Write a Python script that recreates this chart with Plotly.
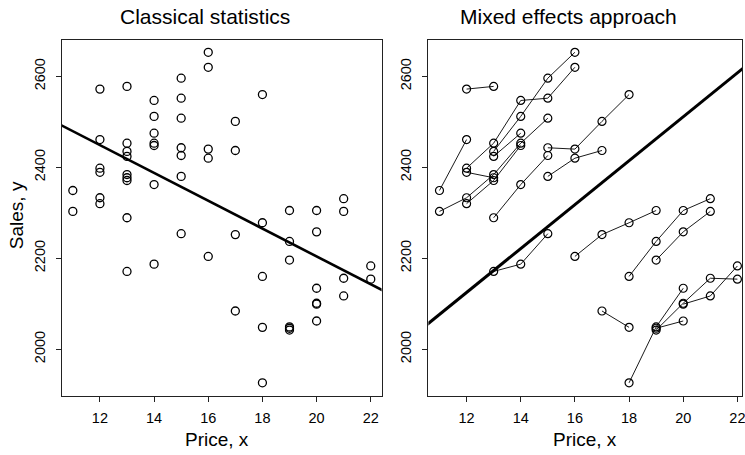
import numpy as np
import plotly.graph_objects as go

# ---- data: each store = one connected series in the right panel ----
store_price = [
    [12, 13],
    [11, 12],
    [12, 13, 14, 15, 16],
    [13, 14, 15, 16],
    [12, 13],
    [11, 12, 13, 14, 15],
    [12, 13, 14],
    [13, 14],
    [13, 14, 15],
    [15, 16, 17, 18],
    [15, 16, 17],
    [13, 14, 15],
    [16, 17, 18, 19],
    [18, 19, 20, 21],
    [19, 20, 21],
    [17, 18],
    [18, 19, 20],
    [19, 20, 21, 22],
    [20, 21, 22],
    [19, 20],
]
store_sales = [
    [2572, 2578],
    [2349, 2461],
    [2398, 2453, 2547, 2552, 2620],
    [2435, 2512, 2596, 2653],
    [2389, 2377],
    [2303, 2333, 2384, 2453, 2508],
    [2320, 2371, 2448],
    [2424, 2475],
    [2289, 2362, 2426],
    [2443, 2440, 2501, 2560],
    [2380, 2420, 2437],
    [2171, 2187, 2254],
    [2204, 2252, 2278, 2305],
    [2160, 2237, 2305, 2331],
    [2196, 2258, 2303],
    [2084, 2048],
    [1926, 2049, 2134],
    [2042, 2101, 2156, 2154],
    [2099, 2117, 2183],
    [2046, 2062],
]

# fitted lines (intercept, slope)
classical_fit = [2816.0, -30.6]
mixed_fit = [1545.0, 48.3]
fit_x = [10.5, 22.5]

x_ticks = [12, 14, 16, 18, 20, 22]
y_ticks = [2000, 2200, 2400, 2600]

panel_titles = ["Classical statistics", "Mixed effects approach"]
x_title = "Price, x"
y_title = "Sales, y"

# ---- figure ----
FONT = "Liberation Sans, Arial, Helvetica, sans-serif"
W, H = 745, 455
ML, MR, MT, MB = 62, 0, 40, 59
PW = W - ML - MR
PH = H - MT - MB

def px2paper_x(px):
    return (px - ML) / PW

def px2paper_y(py):
    return (H - MB - py) / PH

fig = go.Figure()

all_x = [p for s in store_price for p in s]
all_y = [v for s in store_sales for v in s]

fig.add_trace(go.Scatter(
    x=all_x, y=all_y, mode="markers",
    marker=dict(symbol="circle-open", size=8, color="black", line=dict(width=1.3)),
    xaxis="x", yaxis="y", showlegend=False, hoverinfo="skip"))

fx = np.array(fit_x)
fig.add_trace(go.Scatter(
    x=fx, y=classical_fit[0] + classical_fit[1] * fx, mode="lines",
    line=dict(color="black", width=2.6), xaxis="x", yaxis="y",
    showlegend=False, hoverinfo="skip"))

for px_, sy in zip(store_price, store_sales):
    fig.add_trace(go.Scatter(
        x=px_, y=sy, mode="lines+markers",
        line=dict(color="black", width=0.9),
        marker=dict(symbol="circle-open", size=8, color="black", line=dict(width=1.2)),
        xaxis="x2", yaxis="y2", showlegend=False, hoverinfo="skip"))

fig.add_trace(go.Scatter(
    x=fx, y=mixed_fit[0] + mixed_fit[1] * fx, mode="lines",
    line=dict(color="black", width=3), xaxis="x2", yaxis="y2",
    showlegend=False, hoverinfo="skip"))

axis_common = dict(
    showgrid=False, zeroline=False, showline=True, mirror=True,
    linecolor="#222", linewidth=1.4, ticks="outside", ticklen=5,
    tickwidth=1.2, tickcolor="#222",
    tickfont=dict(family=FONT, size=14.5, color="black"),
)

left_end = px2paper_x(383)
right_start = px2paper_x(430)

fig.update_layout(
    width=W, height=H,
    margin=dict(l=ML, r=MR, t=MT, b=MB),
    paper_bgcolor="white", plot_bgcolor="white",
    font=dict(family=FONT, color="black"),
    xaxis=dict(domain=[0, left_end], range=[10.6, 22.4], tickvals=x_ticks,
               anchor="y", ticklabelstandoff=3, **axis_common),
    yaxis=dict(domain=[0, 1], range=[1897, 2680], tickvals=y_ticks,
               anchor="x", tickangle=-90, ticklabelstandoff=5, **axis_common),
    xaxis2=dict(domain=[right_start, 1], range=[10.59, 22.17], tickvals=x_ticks,
                anchor="y2", ticklabelstandoff=3, ticklabeloverflow="allow",
                **axis_common),
    yaxis2=dict(domain=[0, 1], range=[1897, 2680], tickvals=y_ticks,
                anchor="x2", tickangle=-90, ticklabelstandoff=5, **axis_common),
)

ann = []
ann.append(dict(text=panel_titles[0], x=px2paper_x(206), y=px2paper_y(16),
                font=dict(size=21, family=FONT)))
ann.append(dict(text=panel_titles[1], x=px2paper_x(571), y=px2paper_y(16),
                font=dict(size=21, family=FONT)))
ann.append(dict(text=x_title, x=px2paper_x(218), y=px2paper_y(439),
                font=dict(size=19, family=FONT)))
ann.append(dict(text=x_title, x=px2paper_x(587), y=px2paper_y(439),
                font=dict(size=19, family=FONT)))
ann.append(dict(text=y_title, x=px2paper_x(16), y=px2paper_y(215), textangle=-90,
                font=dict(size=19, family=FONT)))
for a in ann:
    a.update(xref="paper", yref="paper", showarrow=False,
             xanchor="center", yanchor="middle")
fig.update_layout(annotations=ann)

fig.write_html("out.html")
